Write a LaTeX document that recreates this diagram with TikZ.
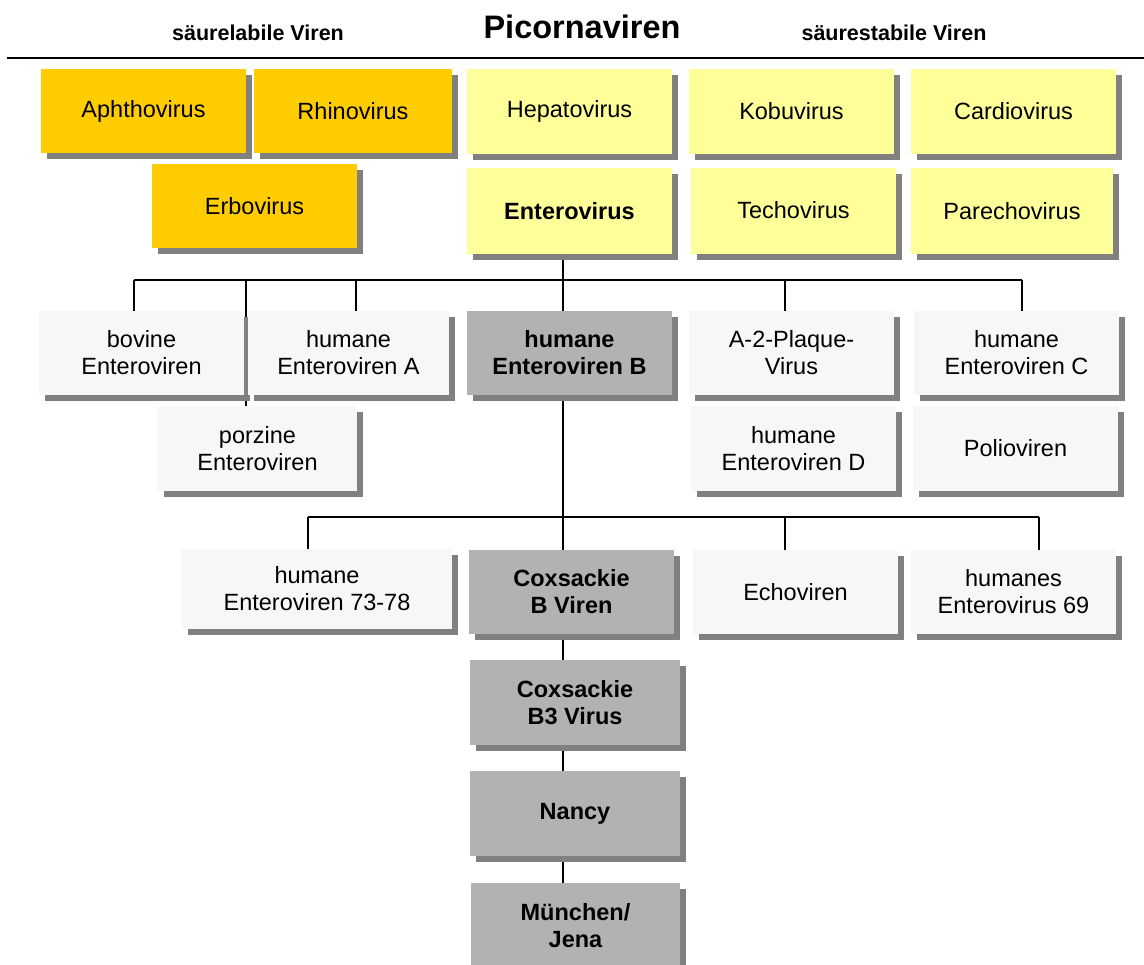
\documentclass[tikz,border=0pt]{standalone}
\usepackage{fontspec}
\setmainfont{Liberation Sans}
\usetikzlibrary{shadows,backgrounds,calc}
\definecolor{orangebox}{HTML}{FFCC00}
\definecolor{yellowbox}{HTML}{FFFF99}
\definecolor{graybox}{HTML}{B2B2B2}
\definecolor{lightbox}{HTML}{F7F7F7}
\definecolor{shadowgray}{HTML}{808080}
\begin{document}
\begin{tikzpicture}[x=1pt,y=-1pt,
  boxfont/.style={font=\fontsize{23.5}{27}\selectfont},
  bboxfont/.style={font=\fontsize{23.5}{27}\selectfont\bfseries},
  box/.style={inner sep=0pt, outer sep=0pt, anchor=north west, align=center, text=black,
    boxfont, drop shadow={shadow xshift=6pt, shadow yshift=-6pt, fill=shadowgray, opacity=1}},
  obox/.style={box, fill=orangebox},
  ybox/.style={box, fill=yellowbox},
  lbox/.style={box, fill=lightbox},
  gbox/.style={box, fill=graybox, bboxfont},
  link/.style={line width=1.5pt, black},
]
\useasboundingbox (0,0) rectangle (1144,965);

% headings
\node[font=\fontsize{32.5}{36}\selectfont\bfseries, anchor=base, inner sep=0pt] (title) at (582,39) {Picornaviren};
\node[font=\fontsize{21.5}{24}\selectfont\bfseries, anchor=base, inner sep=0pt] (labil) at (258,41) {säurelabile Viren};
\node[font=\fontsize{21.5}{24}\selectfont\bfseries, anchor=base, inner sep=0pt] (stabil) at (894,41) {säurestabile Viren};
\coordinate (ruleL) at (7,58);
\coordinate (ruleR) at (1144,58);
\draw[line width=2pt] (ruleL) -- (ruleR);

% genera
\node[obox, minimum width=205pt, minimum height=84pt] (aphtho) at (41,69) {Aphthovirus};
\node[obox, minimum width=198pt, minimum height=84pt] (rhino) at (254,69) {Rhinovirus};
\node[obox, minimum width=205pt, minimum height=84pt] (erbo) at (152,164) {Erbovirus};
\node[ybox, minimum width=205pt, minimum height=85pt] (hepato) at (467,69) {\raisebox{4pt}{Hepatovirus}};
\node[ybox, minimum width=205pt, minimum height=85pt] (kobu) at (689,69) {\raisebox{-1pt}{Kobuvirus}};
\node[ybox, minimum width=205pt, minimum height=85pt] (cardio) at (911,69) {Cardiovirus};
\node[ybox, bboxfont, minimum width=205pt, minimum height=86pt] (entero) at (467,168) {Enterovirus};
\node[ybox, minimum width=205pt, minimum height=86pt] (techo) at (691,168) {\raisebox{2pt}{Techovirus}};
\node[ybox, minimum width=202pt, minimum height=86pt] (parecho) at (911,168) {Parechovirus};

% species
\node[lbox, minimum width=205pt, minimum height=84pt] (bovine) at (39,311) {bovine\\Enteroviren};
\node[lbox, minimum width=201pt, minimum height=84pt] (humA) at (248,311) {humane\\Enteroviren A};
\node[gbox, minimum width=205pt, minimum height=84pt] (humB) at (467,311) {humane\\Enteroviren B};
\node[lbox, minimum width=199pt, minimum height=85pt] (porzine) at (158,406) {porzine\\Enteroviren};
\node[lbox, minimum width=205pt, minimum height=84pt] (atwo) at (689,311) {A-2-Plaque-\\Virus};
\node[lbox, minimum width=205pt, minimum height=84pt] (humC) at (914,311) {humane\\Enteroviren C};
\node[lbox, minimum width=205pt, minimum height=85pt] (humD) at (691,406) {humane\\Enteroviren D};
\node[lbox, minimum width=205pt, minimum height=85pt] (polio) at (913,406) {Polioviren};

% serotypes
\node[lbox, minimum width=270pt, minimum height=80pt] (humsieben) at (182,549) {humane\\Enteroviren 73-78};
\node[gbox, minimum width=205pt, minimum height=84pt] (coxb) at (469,550) {Coxsackie\\B Viren};
\node[lbox, minimum width=205pt, minimum height=84pt] (echo) at (693,550) {Echoviren};
\node[lbox, minimum width=205pt, minimum height=84pt] (humneun) at (911,550) {humanes\\Enterovirus 69};

% strains
\node[gbox, minimum width=210pt, minimum height=85pt] (coxbthree) at (470,660) {Coxsackie\\B3 Virus};
\node[gbox, minimum width=210pt, minimum height=85pt] (nancy) at (470,771) {Nancy};
\node[gbox, minimum width=209pt, minimum height=85pt] (muenchen) at (471,883) {München/\\Jena};

% connectors
\coordinate (caa) at (134,280);
\coordinate (cab) at (246,280);
\coordinate (cac) at (356,280);
\coordinate (ja) at (563,280);
\coordinate (cae) at (785,280);
\coordinate (caf) at (1022,280);
\coordinate (cba) at (308,517);
\coordinate (jb) at (563,517);
\coordinate (cbc) at (785,517);
\coordinate (cbd) at (1039,517);
\begin{scope}[on background layer]
\fill[white] (0,0) rectangle (1144,965);
\draw[link] (entero.south -| ja) -- (ja);
\draw[link] (caa) -- (caf);
\draw[link] (caa) -- (caa |- bovine.north);
\draw[link] (cab) -- (cab |- porzine.north);
\draw[link] (cac) -- (cac |- humA.north);
\draw[link] (ja) -- (ja |- humB.north);
\draw[link] (cae) -- (cae |- atwo.north);
\draw[link] (caf) -- (caf |- humC.north);
\draw[link] (humB.south -| jb) -- (jb);
\draw[link] (cba) -- (cbd);
\draw[link] (cba) -- (cba |- humsieben.north);
\draw[link] (jb) -- (jb |- coxb.north);
\draw[link] (cbc) -- (cbc |- echo.north);
\draw[link] (cbd) -- (cbd |- humneun.north);
\draw[link] (coxb.south -| jb) -- (jb |- coxbthree.north);
\draw[link] (coxbthree.south -| jb) -- (jb |- nancy.north);
\draw[link] (nancy.south -| jb) -- (jb |- muenchen.north);
\end{scope}
\end{tikzpicture}
\end{document}
